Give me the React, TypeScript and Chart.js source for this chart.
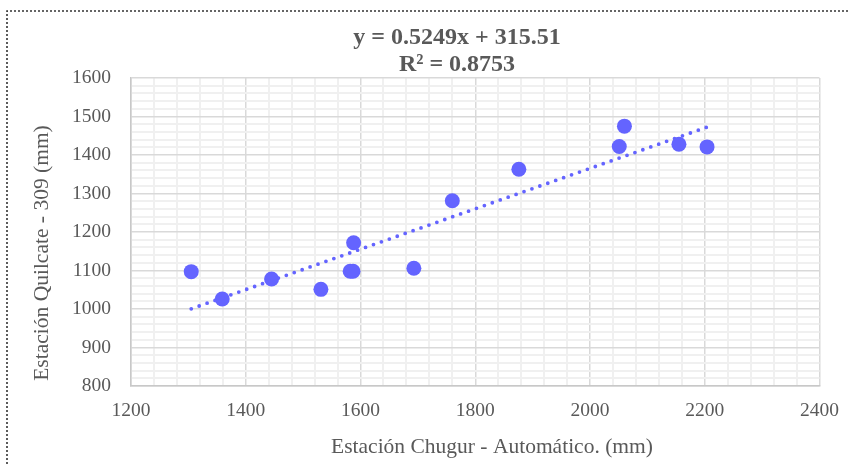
import React, { useEffect, useRef } from 'react';
import { Chart, registerables } from 'chart.js';

Chart.register(...registerables);

// Observed data (Estación Chugur - Automático vs Estación Quilcate - 309), mm
const chugurValues = [1305, 1359, 1445, 1531, 1582, 1587, 1588, 1693, 1760, 1876, 2051, 2060, 2155, 2204];
const quilcateValues = [1097, 1026, 1078, 1051, 1098, 1098, 1172, 1106, 1281, 1363, 1422, 1475, 1428, 1421];

// Trendline reported on the chart
const trendSlope = 0.5249;
const trendIntercept = 315.51;
const titleLines = ['y = 0.5249x + 315.51', 'R\u00b2 = 0.8753'];

// Axis setup
const xMin = 1200;
const xMax = 2400;
const xMajorStep = 200;
const xMinorStep = 40;
const yMin = 800;
const yMax = 1600;
const yMajorStep = 100;
const yMinorStep = 20;

const xAxisTitle = 'Estación Chugur - Automático. (mm)';
const yAxisTitle = 'Estación Quilcate - 309 (mm)';

const FONT = "'Liberation Serif', 'Times New Roman', serif";
const TEXT = '#595959';
const BLUE = '#6464FF';

const decorPlugin = {
  id: 'decor',
  afterDraw(chart: any) {
    const ctx = chart.ctx as CanvasRenderingContext2D;
    ctx.save();
    // dotted outer frame
    ctx.strokeStyle = '#333333';
    ctx.lineWidth = 1.6;
    ctx.setLineDash([2, 2]);
    ctx.beginPath();
    ctx.moveTo(7, 464);
    ctx.lineTo(7, 11);
    ctx.lineTo(850, 11);
    ctx.stroke();
    ctx.setLineDash([]);

    ctx.fillStyle = TEXT;
    ctx.textAlign = 'center';
    ctx.textBaseline = 'middle';
    // chart title
    ctx.font = `bold 24px ${FONT}`;
    ctx.fillText(titleLines[0], 457, 38);
    ctx.fillText(titleLines[1], 457, 65);

    // x axis title
    ctx.font = `21.5px ${FONT}`;
    ctx.fillText(xAxisTitle, 492, 447);

    // y axis title
    ctx.translate(42, 253);
    ctx.rotate(-Math.PI / 2);
    ctx.fillText(yAxisTitle, 0, 0);
    ctx.restore();
  },
};

export default function App() {
  const canvasRef = useRef<HTMLCanvasElement | null>(null);

  useEffect(() => {
    if (!canvasRef.current) return;
    const points = chugurValues.map((x, i) => ({ x, y: quilcateValues[i] }));
    const tx0 = Math.min(...chugurValues);
    const tx1 = Math.max(...chugurValues);
    const trend = [
      { x: tx0, y: trendSlope * tx0 + trendIntercept },
      { x: tx1, y: trendSlope * tx1 + trendIntercept },
    ];

    const chart = new Chart(canvasRef.current, {
      type: 'scatter',
      data: {
        datasets: [
          {
            type: 'line',
            label: 'Lineal',
            data: trend,
            borderColor: BLUE,
            borderWidth: 3.8,
            borderDash: [0, 8.4],
            borderCapStyle: 'round',
            pointRadius: 0,
            fill: false,
            showLine: true,
          } as any,
          {
            label: 'Datos',
            data: points,
            backgroundColor: BLUE,
            borderColor: BLUE,
            borderWidth: 0,
            pointRadius: 7.5,
          },
        ],
      },
      options: {
        animation: false,
        responsive: true,
        maintainAspectRatio: false,
        layout: { padding: { left: 0, right: 32, top: 78, bottom: 0 } },
        plugins: {
          legend: { display: false },
          title: { display: false },
          tooltip: { enabled: false },
        },
        scales: {
          x: {
            type: 'linear',
            min: xMin,
            max: xMax,
            afterFit: (s: any) => {
              s.height = 78;
            },
            ticks: {
              stepSize: xMinorStep,
              autoSkip: false,
              maxRotation: 0,
              padding: 13,
              color: TEXT,
              font: { family: FONT, size: 19.5 },
              callback: (v: any) => (Number(v) % xMajorStep === 0 ? String(v) : ''),
            },
            grid: {
              drawTicks: false,
              color: (c: any) => (c.tick && c.tick.value % xMajorStep === 0 ? '#d9d9d9' : '#f0f0f0'),
              lineWidth: (c: any) => (c.tick && c.tick.value % xMajorStep === 0 ? 1.5 : 2),
            },
            border: { color: '#c8c8c8', width: 1.5 },
          },
          y: {
            type: 'linear',
            min: yMin,
            max: yMax,
            afterFit: (s: any) => {
              s.width = 131;
            },
            ticks: {
              stepSize: yMinorStep,
              autoSkip: false,
              padding: 20,
              color: TEXT,
              font: { family: FONT, size: 19.5 },
              callback: (v: any) => (Number(v) % yMajorStep === 0 ? String(v) : ''),
            },
            grid: {
              drawTicks: false,
              color: (c: any) => (c.tick && c.tick.value % yMajorStep === 0 ? '#d9d9d9' : '#f0f0f0'),
              lineWidth: (c: any) => (c.tick && c.tick.value % yMajorStep === 0 ? 1.5 : 2),
            },
            border: { color: '#c8c8c8', width: 1.5 },
          },
        },
      },
      plugins: [decorPlugin],
    });
    return () => chart.destroy();
  }, []);

  return (
    <div style={{ position: 'fixed', left: 0, top: 0, width: 852, height: 464, background: '#fff' }}>
      <canvas ref={canvasRef} />
    </div>
  );
}
